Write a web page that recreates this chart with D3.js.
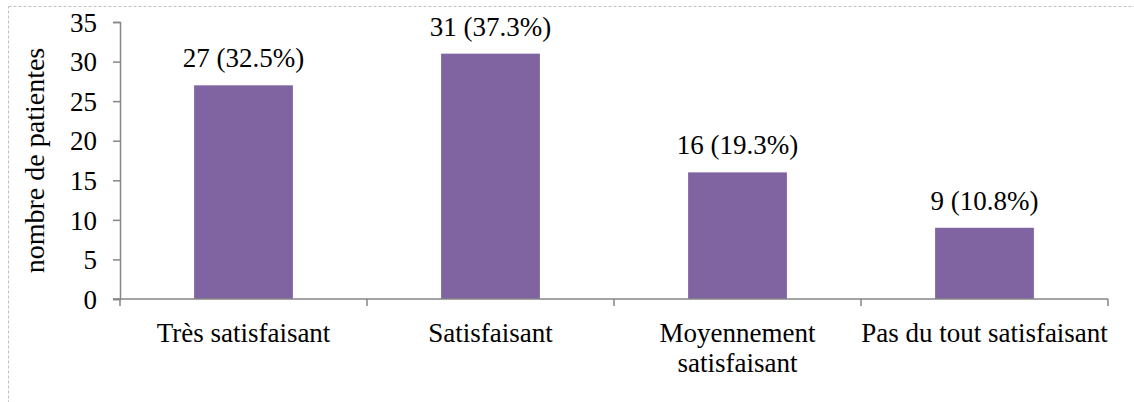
<!DOCTYPE html>
<html>
<head>
<meta charset="utf-8">
<script src="https://cdn.jsdelivr.net/npm/d3@7"></script>
</head>
<body style="margin:0">
<svg id="chart" width="1134" height="402"></svg>
<script>
const categories = ["Très satisfaisant", "Satisfaisant", "Moyennement\nsatisfaisant", "Pas du tout satisfaisant"];
const counts = [27, 31, 16, 9];
const labels = ["27 (32.5%)", "31 (37.3%)", "16 (19.3%)", "9 (10.8%)"];
const yTicks = [0, 5, 10, 15, 20, 25, 30, 35];
const yTitle = "nombre de patientes";

const FONT = '"Liberation Serif"';
const svg = d3.select("#chart");
const W = 1134, H = 402;
const m = { left: 120, right: 26, top: 22, bottom: 103 };
const fs = 27;

// dashed outer border
svg.append("rect")
  .attr("x", 8.5).attr("y", 6.5)
  .attr("width", W + 10).attr("height", H + 10)
  .attr("fill", "none").attr("stroke", "#c0c0c0")
  .attr("stroke-width", 1).attr("stroke-dasharray", "3,2");

const x = d3.scaleBand()
  .domain(categories)
  .range([m.left, W - m.right])
  .paddingInner(0.6)
  .paddingOuter(0.3);

const y = d3.scaleLinear().domain([0, 35]).range([H - m.bottom, m.top]);

const axisColor = "#868686";

// y axis lines (labels drawn separately)
const yAxis = svg.append("g")
  .attr("transform", `translate(${m.left},0)`)
  .call(d3.axisLeft(y).tickValues(yTicks).tickSize(7).tickFormat(""));
yAxis.select(".domain").attr("stroke", axisColor).attr("stroke-width", 1.5);
yAxis.selectAll(".tick line").attr("stroke", axisColor).attr("stroke-width", 1.5);
yAxis.selectAll(".tick text").remove();

// y tick labels, direct children of svg
svg.selectAll("text.ytick")
  .data(yTicks)
  .join("text")
  .attr("class", "ytick")
  .attr("text-anchor", "end")
  .attr("font-family", FONT)
  .attr("font-size", fs)
  .attr("fill", "#000")
  .attr("x", m.left - 23)
  .attr("y", d => y(d) + 9.7)
  .text(d => d);

// bars
svg.selectAll("rect.bar")
  .data(counts)
  .join("rect")
  .attr("class", "bar")
  .attr("x", (d, i) => x(categories[i]))
  .attr("y", d => y(d))
  .attr("width", x.bandwidth())
  .attr("height", d => y(0) - y(d))
  .attr("fill", "#8064A2");

// x axis line and boundary ticks
const step = x.step();
const x0 = x(categories[0]) - step * x.paddingOuter();
const bounds = d3.range(categories.length + 1).map(i => x0 + i * step);
svg.append("line")
  .attr("x1", m.left - 7).attr("x2", bounds[bounds.length - 1])
  .attr("y1", y(0)).attr("y2", y(0))
  .attr("stroke", axisColor).attr("stroke-width", 1.5);
svg.selectAll("line.xtick")
  .data(bounds)
  .join("line")
  .attr("class", "xtick")
  .attr("x1", d => d).attr("x2", d => d)
  .attr("y1", y(0)).attr("y2", y(0) + 7)
  .attr("stroke", axisColor).attr("stroke-width", 1.5);

// category labels (one text per line, direct children of svg)
const catLines = [];
categories.forEach(c => c.split("\n").forEach((l, i) => catLines.push({ c, l, i })));
svg.selectAll("text.cat")
  .data(catLines)
  .join("text")
  .attr("class", "cat")
  .attr("text-anchor", "middle")
  .attr("font-family", FONT)
  .attr("font-size", fs)
  .attr("fill", "#000")
  .attr("x", d => x(d.c) + x.bandwidth() / 2)
  .attr("y", d => y(0) + 42.5 + d.i * 30)
  .text(d => d.l);

// data labels
svg.selectAll("text.val")
  .data(counts)
  .join("text")
  .attr("class", "val")
  .attr("text-anchor", "middle")
  .attr("font-family", FONT)
  .attr("font-size", fs)
  .attr("fill", "#000")
  .attr("x", (d, i) => x(categories[i]) + x.bandwidth() / 2)
  .attr("y", d => y(d) - 18)
  .text((d, i) => labels[i]);

// y axis title
svg.append("text")
  .attr("text-anchor", "middle")
  .attr("font-family", FONT)
  .attr("font-size", 28)
  .attr("fill", "#000")
  .attr("transform", `translate(44,${(y(0) + y(35)) / 2}) rotate(-90)`)
  .text(yTitle);
</script>
</body>
</html>
